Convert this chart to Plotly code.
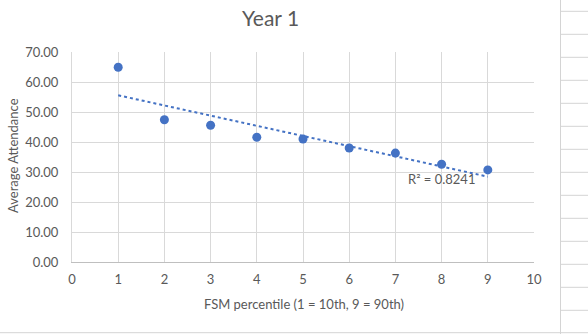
import numpy as np
import plotly.graph_objects as go

fsm_percentile = [1, 2, 3, 4, 5, 6, 7, 8, 9]
avg_attendance = [64.9, 47.4, 45.6, 41.6, 41.0, 38.0, 36.3, 32.6, 30.7]
r2_label = "R² = 0.8241"
title_text = "Year 1"
x_title = "FSM percentile (1 = 10th, 9 = 90th)"
y_title = "Average Attendance"

W, H = 588, 334
ML, MR, MT, MB = 72, 54, 52, 72
PW, PH = W - ML - MR, H - MT - MB

def px_x(p):
    return (p - ML) / PW

def px_y(p):
    return 1 - (p - MT) / PH

TXT = "#595959"
BLUE = "#4472C4"
GRID = "#d9d9d9"
FONT = "Lato, 'Open Sans', sans-serif"

coef = np.polyfit(fsm_percentile, avg_attendance, 1)
tx = [fsm_percentile[0], fsm_percentile[-1]]
ty = [coef[0] * v + coef[1] for v in tx]

fig = go.Figure()
fig.add_trace(go.Scatter(x=tx, y=ty, mode="lines",
                         line=dict(color=BLUE, width=2, dash="dot"),
                         hoverinfo="skip", showlegend=False))
fig.add_trace(go.Scatter(x=fsm_percentile, y=avg_attendance, mode="markers",
                         marker=dict(color=BLUE, size=9), showlegend=False))

fig.update_layout(
    width=W, height=H,
    margin=dict(l=ML, r=MR, t=MT, b=MB, autoexpand=False),
    paper_bgcolor="white", plot_bgcolor="white",
    font=dict(family=FONT, color=TXT, size=13),
    xaxis=dict(range=[0, 10], tickvals=list(range(0, 11)), showgrid=True,
               gridcolor=GRID, gridwidth=1, zeroline=False, showline=True,
               linecolor="#bfbfbf", ticks="outside", ticklen=5,
               tickcolor="rgba(0,0,0,0)", automargin=False,
               tickfont=dict(size=13, color=TXT, family=FONT)),
    yaxis=dict(range=[0, 70], tickvals=list(range(0, 71, 10)), tickformat=".2f",
               showgrid=True, gridcolor=GRID, gridwidth=1, zeroline=False,
               showline=True, linecolor=GRID, ticks="outside", ticklen=10,
               tickcolor="rgba(0,0,0,0)", automargin=False,
               tickfont=dict(size=13, color=TXT, family=FONT)),
)

def ann(text, x, y, size, angle=0):
    return dict(text=text, x=px_x(x), y=px_y(y), xref="paper", yref="paper",
                xanchor="center", yanchor="middle", showarrow=False,
                textangle=angle, font=dict(size=size, color=TXT, family=FONT))

annotations = [
    ann(title_text, 270, 18, 21),
    ann(x_title, 304, 304, 13),
    ann(y_title, 13, 156, 13, -90),
    ann(r2_label, 441, 179, 13),
]
fig.update_layout(annotations=annotations)

shapes = []
# spreadsheet cell grid at right edge
shapes.append(dict(type="line", xref="paper", yref="paper",
                   x0=px_x(560.5), x1=px_x(560.5), y0=px_y(0), y1=px_y(334),
                   line=dict(color="#d4d4d4", width=1)))
for yy in [11.3, 34.3, 57.3, 80.3, 103.3, 126.3, 149.3, 172.3, 195.3, 218.3,
           241.3, 264.3, 287.3, 310.3]:
    shapes.append(dict(type="line", xref="paper", yref="paper",
                       x0=px_x(561), x1=px_x(588), y0=px_y(yy), y1=px_y(yy),
                       line=dict(color="#d4d4d4", width=1)))
shapes.append(dict(type="line", xref="paper", yref="paper",
                   x0=px_x(0), x1=px_x(588), y0=px_y(332.7), y1=px_y(332.7),
                   line=dict(color="#d4d4d4", width=1)))
fig.update_layout(shapes=shapes)

fig.write_html("out.html")
